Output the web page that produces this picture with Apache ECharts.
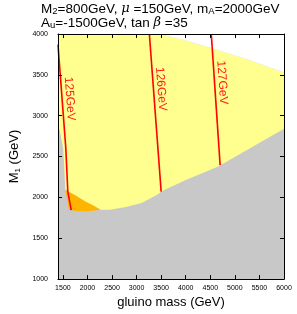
<!DOCTYPE html>
<html>
<head>
<meta charset="utf-8">
<script src="https://cdn.jsdelivr.net/npm/echarts@6/dist/echarts.min.js"></script>
<style>html,body{margin:0;padding:0;background:#fff}#c{width:297px;height:314px}</style>
</head>
<body>
<div id="c"></div>
<script>
// ---- data (GeV) ----
const xTicks = [1500, 2000, 2500, 3000, 3500, 4000, 4500, 5000, 5500, 6000];
const yTicks = [1000, 1500, 2000, 2500, 3000, 3500, 4000];
// allowed (yellow) region boundary: [gluino mass, M1]
const yellowRegion = [
  [1400, 4000], [3480, 4000], [4000, 3920], [4520, 3830], [5250, 3690], [6000, 3530],
  [6000, 2840], [5300, 2600], [4650, 2375], [4000, 2213], [3500, 2073], [3420, 2032],
  [3100, 1931], [2780, 1883], [2460, 1850], [2266, 1850], [1945, 1952], [1750, 2025],
  [1548, 2095], [1525, 2400], [1505, 2600], [1450, 2780], [1400, 2900]
];
// region beyond the scan (white)
const whiteRegion = [
  [3480, 4000], [4000, 3920], [4520, 3830], [5250, 3690], [6000, 3530], [6000, 4000]
];
// orange region
const orangeRegion = [
  [1548, 2095], [1750, 2025], [1945, 1952], [2120, 1900], [2266, 1850],
  [2000, 1830], [1800, 1832], [1625, 1848], [1595, 1950]
];
// Higgs mass contours
const contour125 = [[1400, 3870], [1560, 2600], [1600, 2070], [1670, 1845]];
const contour126 = [[3260, 4000], [3500, 2070]];
const contour127 = [[4520, 4000], [4700, 2395]];
const contourNames = ['125GeV', '126GeV', '127GeV'];
const labelAtM1 = [3200, 3320, 3400];

const chart = echarts.init(document.getElementById('c'), null, {renderer: 'canvas'});

function polygonSeries(points, color, z) {
  return {
    type: 'custom',
    z: z,
    silent: true,
    data: points,
    renderItem: function (params, api) {
      if (params.dataIndex !== 0) return null;
      const pts = [];
      for (let i = 0; i < points.length; i++) {
        pts.push(api.coord([api.value(0, i), api.value(1, i)]));
      }
      return {type: 'polygon', shape: {points: pts}, style: {fill: color}};
    }
  };
}

function contourSeries(points, name, atY) {
  return {
    type: 'custom',
    z: 5,
    silent: true,
    data: points,
    renderItem: function (params, api) {
      if (params.dataIndex !== 0) return null;
      const pts = [];
      for (let i = 0; i < points.length; i++) {
        pts.push(api.coord([api.value(0, i), api.value(1, i)]));
      }
      let seg = 0;
      for (let i = 0; i < points.length - 1; i++) {
        const a = api.value(1, i), b = api.value(1, i + 1);
        if ((atY <= a && atY >= b) || (atY >= a && atY <= b)) { seg = i; break; }
      }
      const x0 = api.value(0, seg), y0 = api.value(1, seg);
      const x1 = api.value(0, seg + 1), y1 = api.value(1, seg + 1);
      const t = (atY - y0) / (y1 - y0);
      const p = api.coord([x0 + t * (x1 - x0), atY]);
      const pa = pts[seg], pb = pts[seg + 1];
      let dx = pb[0] - pa[0], dy = pb[1] - pa[1];
      const len = Math.sqrt(dx * dx + dy * dy);
      dx /= len; dy /= len;
      const off = 7.5;
      const lx = p[0] + dy * off, ly = p[1] - dx * off;
      return {
        type: 'group',
        children: [
          {type: 'polyline', shape: {points: pts}, style: {stroke: '#ff0000', lineWidth: 1.6, fill: null}},
          {type: 'text', x: lx, y: ly, rotation: -Math.atan2(dy, dx),
           style: {text: name, fill: '#ff1a1a', font: '12px "Liberation Sans", Arial, sans-serif',
                   align: 'center', verticalAlign: 'middle'}}
        ]
      };
    }
  };
}

const tickFont = {fontFamily: '"Liberation Sans", Arial, sans-serif', fontSize: 7, color: '#000',
                  formatter: function (v) { return String(v); }};
const sans = '"Liberation Sans", Arial, sans-serif';

chart.setOption({
  animation: false,
  backgroundColor: '#fff',
  title: {
    left: 41, top: 2, padding: 0,
    text: '{n|M}{s|2}{n|=800GeV, }{g|μ}{n| =150GeV, m}{s|A}{n|=2000GeV}\n{n|A}{s|u}{n|=-1500GeV, tan }{g|β}{n| =35}',
    textStyle: {
      fontWeight: 'normal',
      lineHeight: 14,
      rich: {
        n: {fontFamily: sans, fontWeight: 'normal', fontSize: 13.5, color: '#000', lineHeight: 14},
        s: {fontFamily: sans, fontWeight: 'normal', fontSize: 9.5, color: '#000', lineHeight: 14, verticalAlign: 'bottom', padding: [3, 0, 0, 0]},
        g: {fontFamily: '"DejaVu Serif", serif', fontWeight: 'normal', fontStyle: 'italic', fontSize: 13, color: '#000', lineHeight: 14}
      }
    }
  },
  grid: {left: 45, right: 13, top: 34, bottom: 31, show: true, backgroundColor: '#c8c8c8', borderWidth: 0},
  xAxis: [{
    type: 'value', min: 1400, max: 6000, position: 'bottom', z: 10,
    name: 'gluino mass (GeV)', nameLocation: 'middle', nameGap: 14,
    nameTextStyle: {fontFamily: sans, fontSize: 13, color: '#000'},
    axisLine: {show: true, onZero: false, lineStyle: {color: '#000', width: 1}},
    axisTick: {show: true, inside: true, length: 4, customValues: xTicks, lineStyle: {color: '#000'}},
    axisLabel: {customValues: xTicks, margin: 5, ...tickFont},
    splitLine: {show: false}
  }, {
    type: 'value', min: 1400, max: 6000, position: 'top', z: 10,
    axisLine: {show: true, onZero: false, lineStyle: {color: '#000', width: 1}},
    axisTick: {show: true, inside: true, length: 4, customValues: xTicks, lineStyle: {color: '#000'}},
    axisLabel: {show: false},
    splitLine: {show: false}
  }],
  yAxis: [{
    type: 'value', min: 1000, max: 4000, interval: 500, position: 'left', z: 10,
    name: '{a|M}{b|1}{a| (GeV)}', nameLocation: 'middle', nameGap: 27,
    nameTextStyle: {
      rich: {
        a: {fontFamily: sans, fontSize: 13, color: '#000', lineHeight: 14},
        b: {fontFamily: sans, fontSize: 8, color: '#000', lineHeight: 14, verticalAlign: 'bottom', padding: [3, 0, 0, 0]}
      }
    },
    axisLine: {show: true, onZero: false, lineStyle: {color: '#000', width: 1}},
    axisTick: {show: true, inside: true, length: 4, lineStyle: {color: '#000'}},
    axisLabel: {margin: 10, ...tickFont},
    splitLine: {show: false}
  }, {
    type: 'value', min: 1000, max: 4000, interval: 500, position: 'right', z: 10,
    axisLine: {show: true, onZero: false, lineStyle: {color: '#000', width: 1}},
    axisTick: {show: true, inside: true, length: 4, lineStyle: {color: '#000'}},
    axisLabel: {show: false},
    splitLine: {show: false}
  }],
  series: [
    polygonSeries(yellowRegion, '#ffff8f', 1),
    polygonSeries(whiteRegion, '#ffffff', 1),
    polygonSeries(orangeRegion, '#ffb400', 2),
    contourSeries(contour125, contourNames[0], labelAtM1[0]),
    contourSeries(contour126, contourNames[1], labelAtM1[1]),
    contourSeries(contour127, contourNames[2], labelAtM1[2])
  ]
});
</script>
</body>
</html>
